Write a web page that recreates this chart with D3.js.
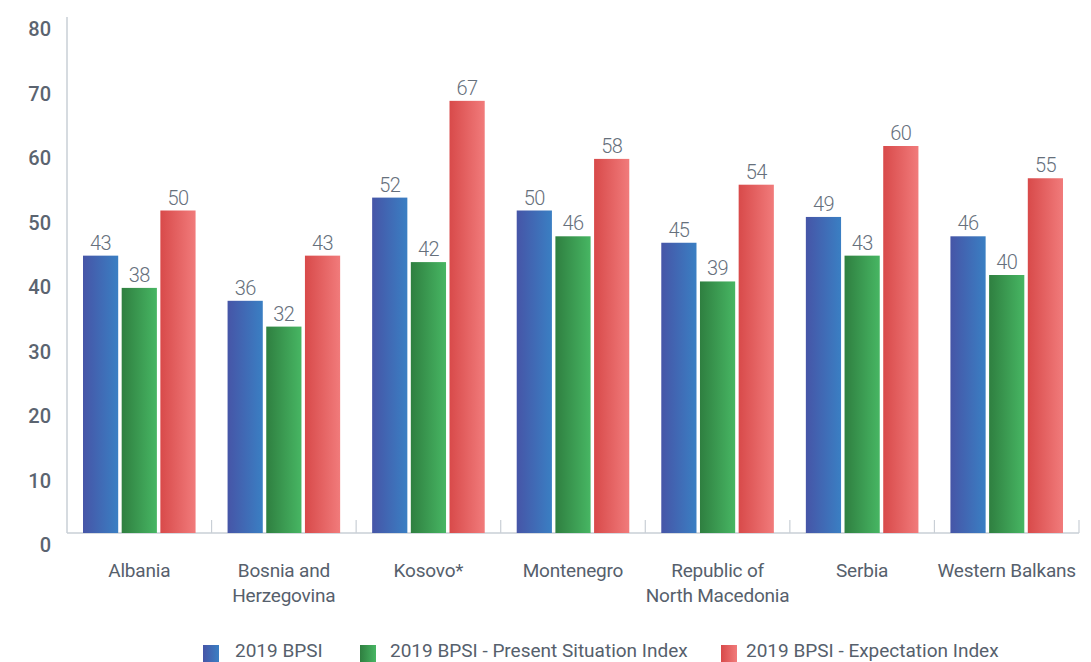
<!DOCTYPE html>
<html><head><meta charset="utf-8">
<script src="https://cdn.jsdelivr.net/npm/d3@7"></script>
<style>html,body{margin:0;padding:0;background:#fff;}svg{display:block;}</style>
</head><body>
<script>
const categories = [["Albania"],["Bosnia and","Herzegovina"],["Kosovo*"],["Montenegro"],["Republic of","North Macedonia"],["Serbia"],["Western Balkans"]];
const seriesNames = ["2019 BPSI","2019 BPSI - Present Situation Index","2019 BPSI - Expectation Index"];
const bpsi =        [43,36,52,50,45,49,46];
const present =     [38,32,42,46,39,43,40];
const expectation = [50,43,67,58,54,60,55];
const yTicks = [0,10,20,30,40,50,60,70,80];

const W=1091,H=662;
const svg=d3.select("body").append("svg").attr("width",W).attr("height",H);
const defs=svg.append("defs");
const grads=[["#4655a7","#3a7fc3"],["#2f7f40","#47b663"],["#d84a4a","#f17b7b"]];
grads.forEach((g,i)=>{
  const lg=defs.append("linearGradient").attr("id","g"+i).attr("x1","0").attr("x2","1").attr("y1","0").attr("y2","0");
  lg.append("stop").attr("offset","0").attr("stop-color",g[0]);
  lg.append("stop").attr("offset","1").attr("stop-color",g[1]);
});
const keys=categories.map((c,i)=>i);
const x0=d3.scaleBand().domain(keys).range([67,1079]).padding(0);
const x1=d3.scaleBand().domain([0,1,2]).range([16,x0.bandwidth()-16]).paddingInner(0.09).paddingOuter(0);
const y=d3.scaleLinear().domain([0,80]).range([533,17]);
const data=[bpsi,present,expectation];
const font="Roboto, 'Open Sans', sans-serif";

// axis lines
const axisCol="#c9cfd6";
svg.append("line").attr("x1",67).attr("x2",67).attr("y1",y(80)).attr("y2",y(0)).attr("stroke",axisCol).attr("stroke-width",1.5);
svg.append("line").attr("x1",67).attr("x2",1079).attr("y1",y(0)).attr("y2",y(0)).attr("stroke",axisCol).attr("stroke-width",1.5);
const bounds=keys.map(k=>x0(k)).concat([x0.range()[1]]);
bounds.slice(1).forEach(b=>{
  svg.append("line").attr("x1",b).attr("x2",b).attr("y1",y(0)-13).attr("y2",y(0)).attr("stroke",axisCol).attr("stroke-width",1.2);
});

// y labels (offset below tick like the reference)
svg.append("g").selectAll("text").data(yTicks).join("text")
  .attr("x",51).attr("y",d=>y(d)+19).attr("text-anchor","end")
  .attr("font-family",font).attr("font-size",20).attr("font-weight",500).attr("fill","#5b6470")
  .text(d=>d);

// bars
keys.forEach(k=>{
  const g=svg.append("g").attr("transform",`translate(${x0(k)},0)`);
  data.forEach((s,si)=>{
    const v=s[k];
    g.append("rect").attr("x",x1(si)).attr("width",x1.bandwidth()).attr("y",y(v)).attr("height",y(0)-y(v))
      .attr("fill",`url(#g${si})`);
    g.append("text").attr("x",x1(si)+x1.bandwidth()/2).attr("y",y(v)-6).attr("text-anchor","middle")
      .attr("font-family",font).attr("font-size",20).attr("letter-spacing",-0.6).attr("font-weight",300).attr("fill","#66707c").text(v);
  });
  const t=svg.append("text").attr("x",x0(k)+x0.bandwidth()/2).attr("y",577).attr("text-anchor","middle")
    .attr("font-family",font).attr("font-size",19).attr("letter-spacing",-0.2).attr("fill","#56606c");
  categories[k].forEach((line,li)=>t.append("tspan").attr("x",x0(k)+x0.bandwidth()/2).attr("dy",li?25:0).text(line));
});

// legend
const legX=[203,360,721];
const legTX=[235,390,746];
seriesNames.forEach((n,i)=>{
  svg.append("rect").attr("x",legX[i]).attr("y",645).attr("width",16).attr("height",17).attr("fill",`url(#g${i})`);
  svg.append("text").attr("x",legTX[i]).attr("y",657).attr("font-family",font).attr("font-size",19)
    .attr("fill","#56606c").text(n);
});
</script>
</body></html>
